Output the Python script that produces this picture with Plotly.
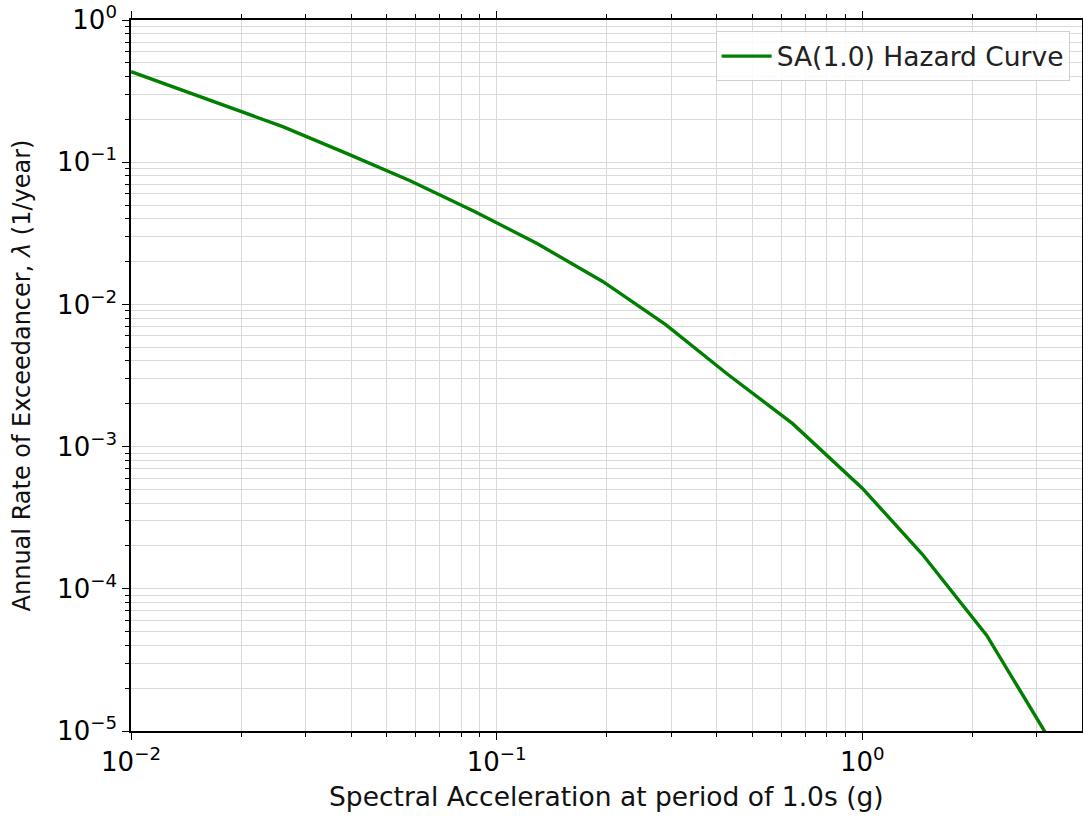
import plotly.graph_objects as go

# Data (log-log hazard curve)
sa_g = [0.01, 0.0117, 0.0175, 0.026, 0.039, 0.058, 0.087, 0.129, 0.195, 0.29, 0.43, 0.645, 1.0, 1.46, 2.19, 3.3]
annual_rate = [0.433, 0.374, 0.257, 0.178, 0.115, 0.074, 0.045, 0.0268, 0.0145, 0.0072, 0.0032, 0.00145, 0.00051, 0.000175, 4.7e-5, 8.2e-6]

x_tick_vals = [0.01, 0.1, 1]
x_tick_text = ["10<sup>−2</sup>", "10<sup>−1</sup>", "10<sup>0</sup>"]
y_tick_vals = [1e-5, 1e-4, 1e-3, 1e-2, 1e-1, 1]
y_tick_text = ["10<sup>−5</sup>", "10<sup>−4</sup>", "10<sup>−3</sup>", "10<sup>−2</sup>", "10<sup>−1</sup>", "10<sup>0</sup>"]

x_title = "Spectral Acceleration at period of 1.0s (g)"
y_title = "Annual Rate of Exceedancer, <i>λ</i> (1/year)"

x_minor = [m * 10.0 ** e for e in (-2, -1, 0) for m in range(2, 10)]
y_minor = [m * 10.0 ** e for e in (-5, -4, -3, -2, -1) for m in range(2, 10)]

FONT = "DejaVu Sans"
GRID = "#dadada"

fig = go.Figure()
fig.add_trace(go.Scatter(
    x=sa_g, y=annual_rate, mode="lines",
    name="SA(1.0) Hazard Curve",
    line=dict(color="#007f00", width=3.4),
))

axis_common = dict(
    type="log", showline=True, linecolor="black", linewidth=1.6,
    mirror="ticks", ticks="outside", ticklen=7, tickwidth=1.3, tickcolor="black",
    showgrid=True, gridcolor=GRID, gridwidth=1, zeroline=False, automargin=False,
    tickfont=dict(family=FONT, size=26, color="black"),
)

fig.update_xaxes(
    **axis_common,
    range=[-2, 0.601],
    tickvals=x_tick_vals, ticktext=x_tick_text,
    minor=dict(tickvals=x_minor, ticks="outside", ticklen=4, tickwidth=1, tickcolor="black",
               showgrid=True, gridcolor=GRID, gridwidth=1),
)
fig.update_yaxes(
    **axis_common,
    range=[-5, 0],
    tickvals=y_tick_vals, ticktext=y_tick_text,
    minor=dict(tickvals=y_minor, ticks="outside", ticklen=4, tickwidth=1, tickcolor="black",
               showgrid=True, gridcolor=GRID, gridwidth=1),
    title=dict(text=y_title, font=dict(family=FONT, size=24, color="#111111"), standoff=20),
)

# x-axis title placed as an annotation below the tick labels
fig.add_annotation(
    text=x_title, xref="paper", yref="paper", x=0.5, y=-0.092,
    xanchor="center", yanchor="middle", showarrow=False,
    font=dict(family=FONT, size=26.5, color="#111111"),
)

fig.update_layout(
    width=1083, height=817,
    margin=dict(l=131, r=1, t=20, b=86),
    paper_bgcolor="white", plot_bgcolor="white",
    showlegend=True,
    legend=dict(
        x=0.987, y=0.984, xanchor="right", yanchor="top",
        bgcolor="rgba(255,255,255,0.85)", bordercolor="#d0d0d0", borderwidth=1,
        font=dict(family=FONT, size=26.5, color="#222222"),
        itemwidth=50,
    ),
)

fig.write_html("out.html")
